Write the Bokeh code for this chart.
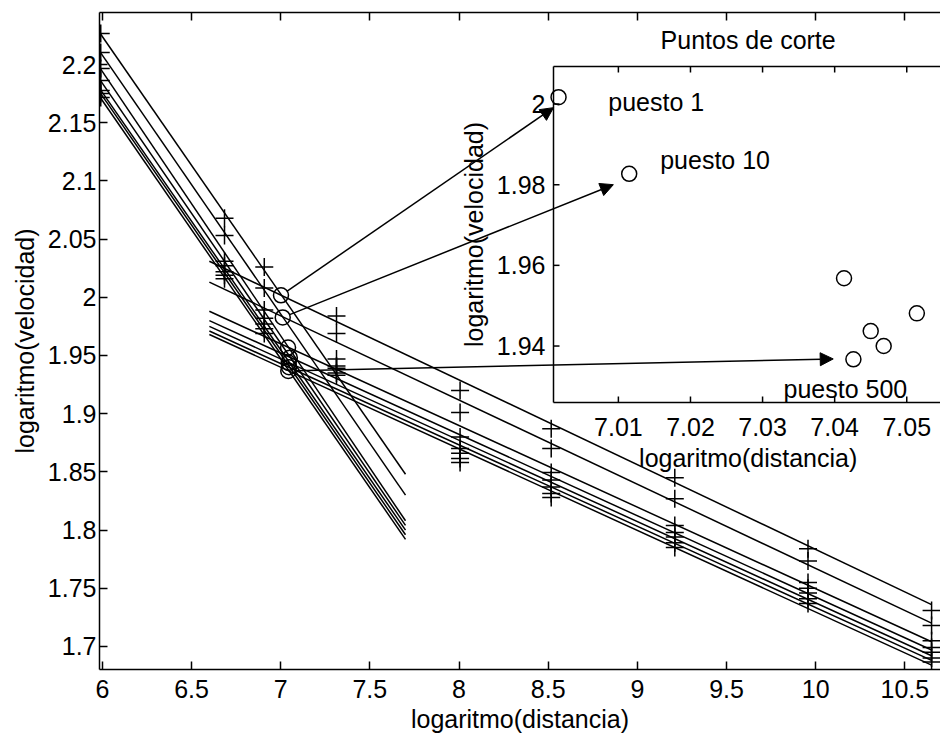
import math
from bokeh.plotting import figure
from bokeh.models import (Range1d, LinearAxis, FixedTicker, CustomJSTickFormatter,
                          CustomLabelingPolicy, Arrow, NormalHead)
from bokeh.core.properties import value
from bokeh.embed import file_html
from bokeh.resources import INLINE

FONT = value("Liberation Sans")
FS = "25px"
LW = 1.5

# ln(distance / m): 400, 800, 1000, 1500, 3000, 5000, 10000 m, half marathon, marathon
log_dist = [5.991, 6.685, 6.908, 7.313, 8.006, 8.517, 9.210, 9.957, 10.650]

# ln(speed) for each ranking position, best position first
speed_rank_1 = [2.2266, 2.068, 2.026, 1.984, 1.920, 1.887, 1.845, 1.784, 1.731]
speed_rank_10 = [2.2103, 2.053, 2.008, 1.969, 1.901, 1.870, 1.827, 1.7735, 1.718]
speed_rank_c = [2.1966, 2.031, 1.989, 1.947, 1.880, 1.8495, 1.804, 1.755, 1.705]
speed_rank_d = [2.1863, 2.027, 1.982, 1.941, 1.870, 1.843, 1.798, 1.750, 1.699]
speed_rank_e = [2.1777, 2.022, 1.977, 1.939, 1.866, 1.837, 1.794, 1.746, 1.695]
speed_rank_f = [2.1751, 2.019, 1.973, 1.935, 1.8615, 1.8315, 1.789, 1.741, 1.690]
speed_rank_500 = [2.1716, 2.016, 1.969, 1.933, 1.858, 1.828, 1.785, 1.737, 1.6866]
speeds = [speed_rank_1, speed_rank_10, speed_rank_c, speed_rank_d,
          speed_rank_e, speed_rank_f, speed_rank_500]

# fitted lines: sprint events (steep) and middle/long events (shallow)
short_fit_x = [5.991, 7.70]
short_fit_start = [2.226, 2.210, 2.196, 2.186, 2.178, 2.175, 2.171]
short_fit_end = [1.848, 1.830, 1.808, 1.804, 1.800, 1.796, 1.792]
long_fit_x = [6.60, 10.65]
long_fit_start = [2.031, 2.013, 1.988, 1.980, 1.975, 1.971, 1.968]
long_fit_end = [1.736, 1.720, 1.704, 1.697, 1.692, 1.688, 1.684]

# where the two fitted lines of each position cross
cut_x = [7.0017, 7.0115, 7.0413, 7.0514, 7.0450, 7.0468, 7.0426]
cut_y = [2.0017, 1.9827, 1.9568, 1.9481, 1.9437, 1.9400, 1.9367]

# tick values
main_x_ticks = [6, 6.5, 7, 7.5, 8, 8.5, 9, 9.5, 10, 10.5]
main_y_ticks = [1.7, 1.75, 1.8, 1.85, 1.9, 1.95, 2, 2.05, 2.1, 2.15, 2.2]
inset_x_ticks = [7.01, 7.02, 7.03, 7.04, 7.05]
inset_y_ticks = [1.94, 1.96, 1.98, 2]

# annotated cut points (label centre lines in inset coordinates)
callout_text = ["puesto 1", "puesto 10", "puesto 500"]
callout_x = [7.0086, 7.0158, 7.0329]
callout_y = [2.0005, 1.9861, 1.9293]
arrow_from = [0, 1, 6]
arrow_tip_x = [7.0010, 7.0093, 7.0398]
arrow_tip_y = [1.9991, 1.9800, 1.9368]

# ---- layout (page pixels) ----
W, H = 940, 740
FL, FR, FT, FB = 99, 940, 12, 669          # main frame
MX0, MX1 = 5.984, 10.70
MY0, MY1 = 1.6802, 2.2447
IL, IR, IT, IB = 553, 942.3, 66, 402       # inset frame
IX0, IX1 = 7.001, 7.055
IY0, IY1 = 1.926, 2.0093


def main_px(x, y):
    return (FL + (x - MX0) * (FR - FL) / (MX1 - MX0),
            FB - (y - MY0) * (FB - FT) / (MY1 - MY0))


def main_data(px, py):
    return (MX0 + (px - FL) * (MX1 - MX0) / (FR - FL),
            MY0 + (FB - py) * (MY1 - MY0) / (FB - FT))


def inset_px(x, y):
    return (IL + (x - IX0) * (IR - IL) / (IX1 - IX0),
            IB - (y - IY0) * (IB - IT) / (IY1 - IY0))


def inset_data(px, py):
    return (IX0 + (px - IL) * (IX1 - IX0) / (IR - IL),
            IY0 + (IB - py) * (IY1 - IY0) / (IB - IT))


p = figure(width=W, height=H, x_range=Range1d(MX0, MX1), y_range=Range1d(MY0, MY1),
           output_backend="svg", toolbar_location=None,
           min_border_left=FL, min_border_right=0, min_border_top=FT,
           min_border_bottom=H - FB)
p.outline_line_color = None
p.grid.visible = False
p.background_fill_color = "white"
p.border_fill_color = "white"

# inset coordinates spread over the whole frame
ex0, ey0 = inset_data(FL, FB)
ex1, ey1 = inset_data(FR, FT)
p.extra_x_ranges = {"inset": Range1d(ex0, ex1)}
p.extra_y_ranges = {"inset": Range1d(ey0, ey1)}

fmt = CustomJSTickFormatter(code="return String(Math.round(tick * 1000) / 1000);")


def style_axis(ax, ticks):
    ax.ticker = FixedTicker(ticks=ticks)
    ax.formatter = fmt
    ax.major_tick_in = 8
    ax.major_tick_out = 0
    ax.minor_tick_line_color = None
    ax.axis_line_width = LW
    ax.major_tick_line_width = LW
    ax.axis_line_color = "black"
    ax.major_tick_line_color = "black"
    ax.major_label_text_font = "Liberation Sans"
    ax.major_label_text_font_size = FS
    ax.major_label_text_color = "black"
    ax.axis_label_text_font = "Liberation Sans"
    ax.axis_label_text_font_size = FS
    ax.axis_label_text_font_style = "normal"
    ax.axis_label_text_color = "black"


style_axis(p.xaxis[0], main_x_ticks)
style_axis(p.yaxis[0], main_y_ticks)
p.xaxis[0].axis_label = "logaritmo(distancia)"
p.yaxis[0].axis_label = "logaritmo(velocidad)"
p.xaxis[0].major_label_standoff = 10
p.xaxis[0].axis_label_standoff = 4
p.yaxis[0].major_label_standoff = 3
p.yaxis[0].axis_label_standoff = 6

# top edge: line and inward ticks only
top = LinearAxis()
style_axis(top, main_x_ticks)
top.major_label_text_font_size = "0px"
top.major_label_standoff = 0
top.major_label_policy = CustomLabelingPolicy(
    code="for (const i of indices) indices.unset(i)")
p.add_layout(top, "above")

# fitted lines
p.multi_line(xs=[short_fit_x] * len(short_fit_start),
             ys=[[a, b] for a, b in zip(short_fit_start, short_fit_end)],
             line_color="black", line_width=LW)
p.multi_line(xs=[long_fit_x] * len(long_fit_start),
             ys=[[a, b] for a, b in zip(long_fit_start, long_fit_end)],
             line_color="black", line_width=LW)

# observed points
for s in speeds:
    p.scatter(log_dist, s, marker="cross", size=18, line_color="black", line_width=LW)

# cut points on the main axes
p.scatter(cut_x, cut_y, marker="circle", size=15, fill_color=None,
          line_color="black", line_width=LW)

# ---- inset: zoom on the cut points ----
R = dict(x_range_name="inset", y_range_name="inset")
p.quad(left=[IX0], right=[IX1], bottom=[IY0], top=[IY1], fill_color="white",
       line_color=None, **R)
p.multi_line(xs=[[IX0, IX0], [IX0, IX1], [IX0, IX1]],
             ys=[[IY0, IY1], [IY1, IY1], [IY0, IY0]],
             line_color="black", line_width=LW, **R)

tick_dy = 6 * (IY1 - IY0) / (IB - IT)
tick_dx = 6 * (IX1 - IX0) / (IR - IL)
p.segment(x0=inset_x_ticks, x1=inset_x_ticks, y0=[IY0] * 5, y1=[IY0 + tick_dy] * 5,
          line_color="black", line_width=LW, **R)
p.segment(x0=inset_x_ticks, x1=inset_x_ticks, y0=[IY1] * 5, y1=[IY1 - tick_dy] * 5,
          line_color="black", line_width=LW, **R)
p.segment(x0=[IX0] * 4, x1=[IX0 + tick_dx] * 4, y0=inset_y_ticks, y1=inset_y_ticks,
          line_color="black", line_width=LW, **R)

p.scatter(cut_x, cut_y, marker="circle", size=15, fill_color=None,
          line_color="black", line_width=LW, **R)

txt = dict(text_font=FONT, text_font_size=FS, text_color="black",
           text_baseline="middle", **R)

# inset tick labels
_, xl_y = inset_data(0, 426)
p.text(x=inset_x_ticks, y=[xl_y] * 5, text=[f"{t:g}" for t in inset_x_ticks],
       text_align="center", **txt)
yl_x, _ = inset_data(545, 0)
p.text(x=[yl_x] * 4, y=inset_y_ticks, text=[f"{t:g}" for t in inset_y_ticks],
       text_align="right", **txt)

# inset title and axis labels
cx, ty = inset_data((IL + IR) / 2, 39)
p.text(x=[cx], y=[ty], text=["Puntos de corte"], text_align="center", **txt)
_, xlab_y = inset_data(0, 457)
p.text(x=[cx], y=[xlab_y], text=["logaritmo(distancia)"], text_align="center", **txt)
ylab_x, ylab_y = inset_data(473, (IT + IB) / 2)
p.text(x=[ylab_x], y=[ylab_y], text=["logaritmo(velocidad)"], angle=math.pi / 2,
       text_align="center", **txt)

p.text(x=callout_x, y=callout_y, text=callout_text, text_align="left", **txt)

# arrows from the cut points to their zoomed copies
for k, i in enumerate(arrow_from):
    sx, sy = main_px(cut_x[i], cut_y[i])
    tx, ty2 = inset_px(arrow_tip_x[k], arrow_tip_y[k])
    d = math.hypot(tx - sx, ty2 - sy)
    sx += (tx - sx) / d * 7.5
    sy += (ty2 - sy) / d * 7.5
    x0, y0 = main_data(sx, sy)
    x1, y1 = main_data(tx, ty2)
    p.add_layout(Arrow(x_start=x0, y_start=y0, x_end=x1, y_end=y1,
                       line_color="black", line_width=LW,
                       end=NormalHead(size=13, fill_color="black",
                                      line_color="black", line_width=1)))

open("out.html", "w").write(file_html(p, INLINE))
